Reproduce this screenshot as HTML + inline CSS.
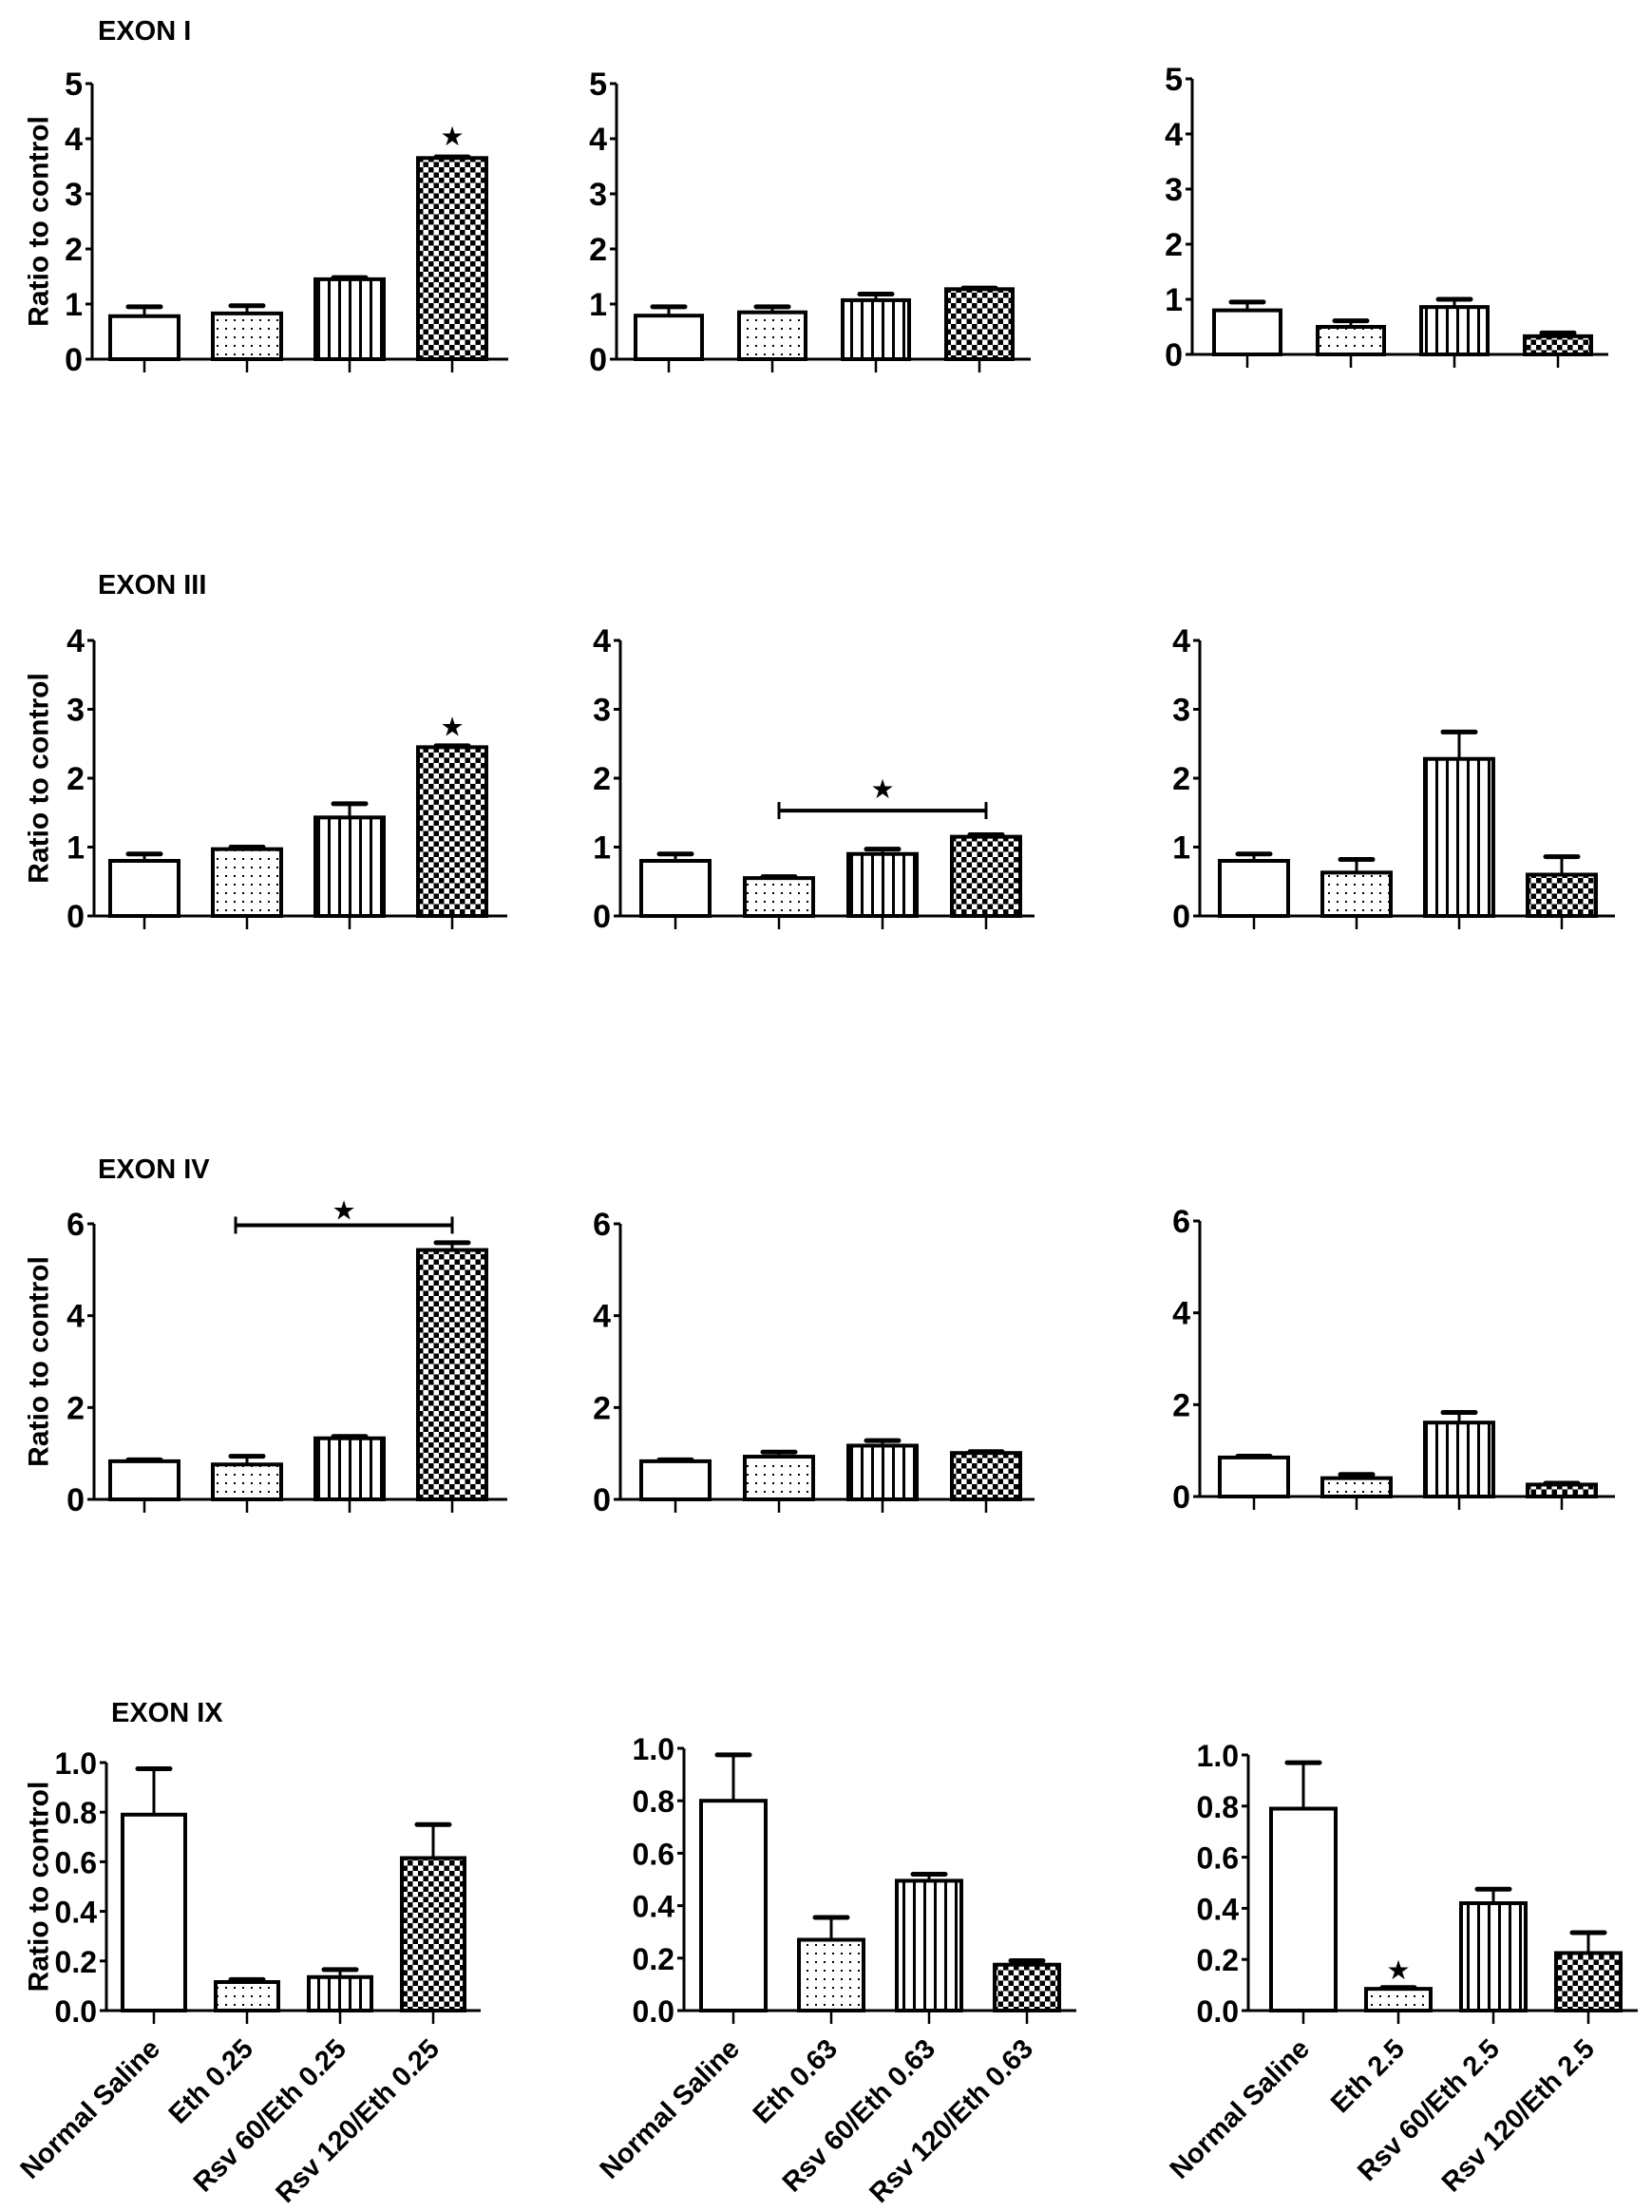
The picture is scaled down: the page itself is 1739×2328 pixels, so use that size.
<!DOCTYPE html>
<html><head><meta charset="utf-8"><style>
html,body{margin:0;padding:0;background:#fff;}
svg{display:block;font-family:"Liberation Sans",Arial,sans-serif;}
</style></head><body>
<svg id="fig" width="1739" height="2328" viewBox="0 0 1739 2328" xmlns="http://www.w3.org/2000/svg">
<defs>
<pattern id="pDots" width="9" height="9" patternUnits="userSpaceOnUse"><rect width="9" height="9" fill="#fff"/><rect x="3" y="3" width="2" height="2" fill="#000"/></pattern>
<pattern id="pStripes" width="11" height="10" patternUnits="userSpaceOnUse"><rect width="11" height="10" fill="#fff"/><rect x="4" y="0" width="3" height="10" fill="#000"/></pattern>
<pattern id="pChecker" width="11" height="11" patternUnits="userSpaceOnUse"><rect width="11" height="11" fill="#fff"/><rect x="0" y="0" width="5.5" height="5.5" fill="#000"/><rect x="5.5" y="5.5" width="5.5" height="5.5" fill="#000"/></pattern>
</defs>
</svg>
<script>
// ---- data ----
const categoriesRow4Col1 = ["Normal Saline","Eth 0.25","Rsv 60/Eth 0.25","Rsv 120/Eth 0.25"];
const categoriesRow4Col2 = ["Normal Saline","Eth 0.63","Rsv 60/Eth 0.63","Rsv 120/Eth 0.63"];
const categoriesRow4Col3 = ["Normal Saline","Eth 2.5","Rsv 60/Eth 2.5","Rsv 120/Eth 2.5"];
const exonTitles = ["EXON I","EXON III","EXON IV","EXON IX"];

const exon1Values = [[0.78,0.83,1.45,3.65],[0.79,0.85,1.07,1.27],[0.8,0.5,0.86,0.33]];
const exon1Errors = [[0.95,0.97,1.48,3.67],[0.95,0.95,1.18,1.29],[0.95,0.61,1.0,0.39]];
const exon3Values = [[0.8,0.97,1.43,2.45],[0.8,0.55,0.9,1.15],[0.8,0.63,2.28,0.6]];
const exon3Errors = [[0.9,1.0,1.63,2.47],[0.9,0.57,0.97,1.18],[0.9,0.82,2.67,0.86]];
const exon4Values = [[0.83,0.76,1.33,5.43],[0.83,0.93,1.17,1.01],[0.85,0.4,1.61,0.26]];
const exon4Errors = [[0.86,0.94,1.37,5.59],[0.86,1.03,1.28,1.04],[0.88,0.48,1.83,0.29]];
const exon9Values = [[0.79,0.115,0.135,0.615],[0.8,0.27,0.495,0.175],[0.79,0.085,0.42,0.225]];
const exon9Errors = [[0.975,0.125,0.165,0.75],[0.975,0.355,0.52,0.19],[0.97,0.09,0.475,0.305]];

const yTicksExon1 = [0,1,2,3,4,5];
const yTicksExon3 = [0,1,2,3,4];
const yTicksExon4 = [0,2,4,6];
const yTicksExon9 = [0,0.2,0.4,0.6,0.8,1.0];

// significance: [row, col, barIndex, starValue]; brackets: [row,col,fromBar,toBar,value,starValue]
const starMarks = [[0,0,3,4.05],[1,0,3,2.75],[3,2,1,0.16]];
const bracketMarks = [[1,1,1,3,1.53,1.85],[2,0,1,3,5.97,6.3]];

// ---- layout ----
const rowsValues=[exon1Values,exon3Values,exon4Values,exon9Values];
const rowsErrors=[exon1Errors,exon3Errors,exon4Errors,exon9Errors];
const rowsTicks=[yTicksExon1,yTicksExon3,yTicksExon4,yTicksExon9];
const rowsMax=[5,4,6,1.0];
const layout=[
 [{ax:97,top:88,zero:378,t0:152,sp:108,end:535,bw:72},{ax:649,top:88,zero:378,t0:704,sp:109,end:1085,bw:70},{ax:1255,top:83,zero:373,t0:1313,sp:109,end:1693,bw:70}],
 [{ax:99,top:674,zero:964,t0:152,sp:108,end:534,bw:72},{ax:653,top:674,zero:964,t0:711,sp:109,end:1089,bw:72},{ax:1263,top:674,zero:964,t0:1320,sp:108,end:1700,bw:72}],
 [{ax:99,top:1288,zero:1578,t0:152,sp:108,end:534,bw:72},{ax:653,top:1288,zero:1578,t0:711,sp:109,end:1089,bw:72},{ax:1263,top:1285,zero:1575,t0:1320,sp:108,end:1700,bw:72}],
 [{ax:112,top:1855,zero:2116,t0:162,sp:98,end:506,bw:66},{ax:720,top:1840,zero:2116,t0:772,sp:103,end:1133,bw:68},{ax:1314,top:1847,zero:2116,t0:1372,sp:100,end:1724,bw:68}]
];
const titlePos=[[103,42],[103,625],[103,1240],[117,1812]];
const fills=["#fff","url(#pDots)","url(#pStripes)","url(#pChecker)"];
const row4Cats=[categoriesRow4Col1,categoriesRow4Col2,categoriesRow4Col3];

const svg=document.getElementById('fig');
const NS="http://www.w3.org/2000/svg";
function mk(tag,attrs,parent){const e=document.createElementNS(NS,tag);for(const k in attrs)e.setAttribute(k,attrs[k]);(parent||svg).appendChild(e);return e;}
function yScale(L,max,v){return L.zero-(v/max)*(L.zero-L.top);}
function xScale(L,i){return L.t0+i*L.sp;}

for(let r=0;r<4;r++){
  const t=mk('text',{x:titlePos[r][0],y:titlePos[r][1],'font-size':29,'font-weight':'bold'});
  t.textContent=exonTitles[r];
  
  
  for(let c=0;c<3;c++){
    const L=layout[r][c], max=rowsMax[r];
    const g=mk('g',{});
    
    
    rowsValues[r][c].forEach((v,i)=>{
      const x=xScale(L,i), y=yScale(L,max,v), ye=yScale(L,max,rowsErrors[r][c][i]);
      const eb=mk('line',{x1:x,x2:x,y1:y,y2:ye,stroke:'#000','stroke-width':3},g);
      
      
      const cap=mk('line',{x1:x-17,x2:x+17,y1:ye,y2:ye,stroke:'#000','stroke-width':5,'stroke-linecap':'round'},g);
      
      
      const b=mk('rect',{x:x-L.bw/2,y:y,width:L.bw,height:L.zero-y,fill:fills[i],stroke:'#000','stroke-width':4},g);
      
      
    });
    const ya=mk('line',{x1:L.ax,x2:L.ax,y1:L.top,y2:L.zero,stroke:'#000','stroke-width':3},g);
    
    
    const xa=mk('line',{x1:L.ax-2,x2:L.end,y1:L.zero,y2:L.zero,stroke:'#000','stroke-width':3},g);
    
    
    rowsTicks[r].forEach(tv=>{
      const y=yScale(L,max,tv);
      mk('line',{x1:L.ax-7,x2:L.ax,y1:y,y2:y,stroke:'#000','stroke-width':3},g);
      const tl=mk('text',{x:L.ax-10,y:y+12,'font-size':r==3?32:34,'font-weight':'bold','text-anchor':'end'},g);
      tl.textContent=r==3?tv.toFixed(1):String(tv);
      
      
    });
    for(let i=0;i<4;i++){
      const x=xScale(L,i);
      mk('line',{x1:x,x2:x,y1:L.zero,y2:L.zero+14,stroke:'#000','stroke-width':2.5},g);
      if(r==3){
        const cl=mk('text',{x:x+8,y:L.zero+42,'font-size':29,'font-weight':'bold','text-anchor':'end',transform:'rotate(-45 '+(x+8)+' '+(L.zero+42)+')'},g);
        cl.textContent=row4Cats[c][i];
        
        
      }
    }
    if(c==0){
      const cy=(L.top+L.zero)/2;
      const yt=mk('text',{x:41,y:cy,'font-size':30,'font-weight':'bold','text-anchor':'middle',transform:'rotate(-90 41 '+cy+')','dominant-baseline':'central'},g);
      yt.textContent='Ratio to control';
      
      
    }
  }
}
starMarks.forEach(s=>{
  const L=layout[s[0]][s[1]], max=rowsMax[s[0]];
  const st=mk('text',{x:xScale(L,s[2]),y:yScale(L,max,s[3])+10,'font-size':28,'text-anchor':'middle'});
  st.textContent='★';
  
  
});
bracketMarks.forEach(b=>{
  const L=layout[b[0]][b[1]], max=rowsMax[b[0]];
  const x1=xScale(L,b[2])-(b[0]==2?12:0), x2=xScale(L,b[3]), y=yScale(L,max,b[4]);
  const g=mk('g',{});
  
  
  mk('line',{x1:x1,x2:x2,y1:y,y2:y,stroke:'#000','stroke-width':4},g);
  mk('line',{x1:x1,x2:x1,y1:y-9,y2:y+9,stroke:'#000','stroke-width':3},g);
  mk('line',{x1:x2,x2:x2,y1:y-9,y2:y+9,stroke:'#000','stroke-width':3},g);
  const st=mk('text',{x:(x1+x2)/2,y:yScale(L,max,b[5])+10,'font-size':28,'text-anchor':'middle'},g);
  st.textContent='★';
});
</script>
</body></html>
